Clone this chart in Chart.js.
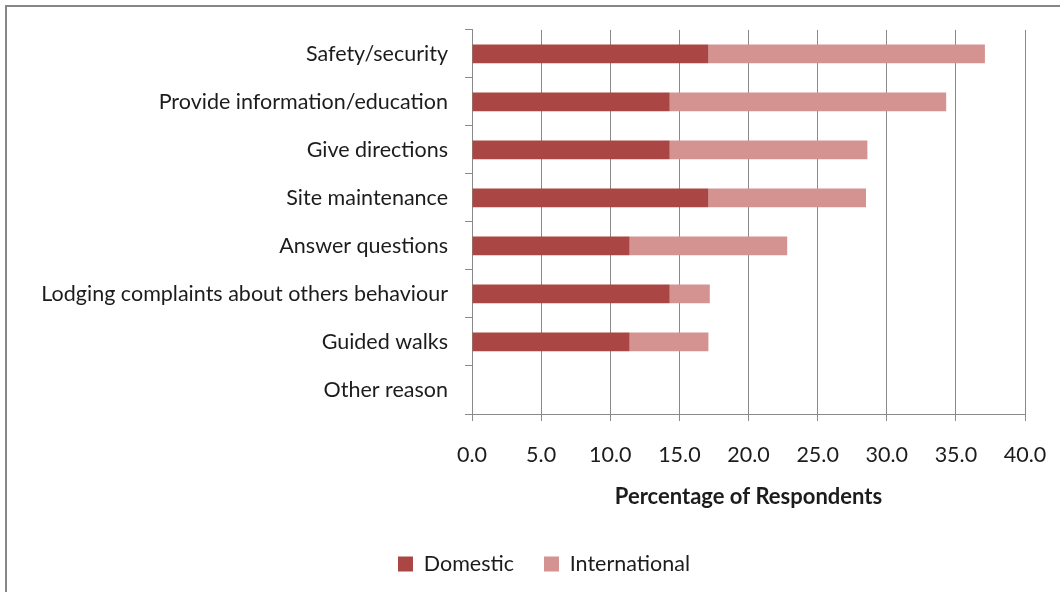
<!DOCTYPE html>
<html>
<head>
<meta charset="utf-8">
<script src="https://cdn.jsdelivr.net/npm/chart.js@4/dist/chart.umd.min.js"></script>
<style>
  html, body { margin: 0; padding: 0; background: #fff; overflow: hidden; }
  #frame {
    position: absolute; left: 5px; top: 5px;
    width: 1100px; height: 700px;
    border: 2px solid #878787;
  }
  #wrap { position: absolute; left: 0; top: 0; width: 1060px; height: 592px; }
</style>
</head>
<body>
<div id="frame"></div>
<div id="wrap"><canvas id="myChart" width="1060" height="592"></canvas></div>
<script>
const reasons = [
  'Safety/security',
  'Provide information/education',
  'Give directions',
  'Site maintenance',
  'Answer questions',
  'Lodging complaints about others behaviour',
  'Guided walks',
  'Other reason'
];
const domestic      = [17.1, 14.3, 14.3, 17.1, 11.4, 14.3, 11.4, 0];
const international = [20.0, 20.0, 14.3, 11.4, 11.4, 2.9, 5.7, 0];

const gridGrey = '#8a8a8a';
const textCol = '#1c1c1c';
const font = { family: 'Lato', size: 21.5 };

// move the legend row below the axis title, centred a bit right of the canvas middle
const legendPlace = {
  id: 'legendPlace',
  afterLayout(chart) {
    const lg = chart.legend;
    const pad = lg.options.labels.padding;
    const dy = (564 - pad - font.size / 2) - lg.top;
    const dx = 544 - (lg.left + lg.right) / 2;
    lg.top += dy; lg.bottom += dy;
    lg.left += dx; lg.right += dx;
  }
};

const graph = document.getElementById('myChart');

var barGraph = new Chart(graph, {
  type: 'bar',
  data: {
    labels: reasons,
    datasets: [{
      label: 'Domestic',
      data: domestic,
      backgroundColor: '#aa4644',
      barPercentage: 0.39,
      categoryPercentage: 1
    }, {
      label: 'International',
      data: international,
      backgroundColor: '#d49391',
      barPercentage: 0.39,
      categoryPercentage: 1
    }]
  },
  options: {
    indexAxis: 'y',
    responsive: false,
    animation: false,
    layout: { padding: { top: 26, right: 35, bottom: 0, left: 0 } },
    scales: {
      x: {
        stacked: true,
        min: 0,
        max: 40,
        ticks: {
          stepSize: 5,
          color: textCol,
          font: font,
          padding: 21,
          maxRotation: 0,
          callback: v => v.toFixed(1)
        },
        grid: { color: gridGrey, tickLength: 7 },
        border: { color: gridGrey },
        title: {
          display: true,
          text: 'Percentage of Respondents',
          color: textCol,
          font: { family: 'Lato', size: 22, weight: 'bold' },
          padding: { top: 4, bottom: 20 }
        },
        afterFit: scale => {
          scale.height = 116.5;
          scale.paddingLeft = 0;
          scale.paddingRight = 0;
        }
      },
      y: {
        stacked: true,
        ticks: { color: textCol, font: font, padding: 17 },
        grid: { drawOnChartArea: false, color: gridGrey, tickLength: 7 },
        border: { color: gridGrey },
        afterFit: scale => { scale.width = 472; }
      }
    },
    plugins: {
      tooltip: { enabled: false },
      legend: {
        position: 'bottom',
        labels: {
          color: textCol,
          font: font,
          boxWidth: 15,
          boxHeight: 15,
          padding: 30
        }
      }
    }
  },
  plugins: [legendPlace]
});
</script>
</body>
</html>
